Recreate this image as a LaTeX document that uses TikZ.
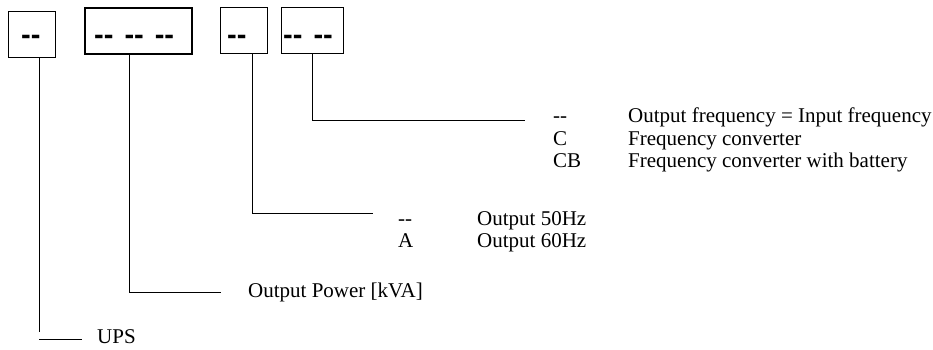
\documentclass[tikz,border=0pt]{standalone}
\usepackage{fontspec}
\setmainfont{Liberation Serif}
\newfontfamily\boxfont{Liberation Sans}
\newcommand\hy{\mbox{-}}
\begin{document}
\begin{tikzpicture}[x=1pt,y=-1pt,
  codebox/.style={draw, line width=1pt, inner sep=0pt, anchor=north west},
  thickbox/.style={codebox, line width=1.6pt},
  lead/.style={line width=1pt},
  code/.style={anchor=base west, inner sep=0pt, font=\boxfont\bfseries\fontsize{29}{29}\selectfont},
  lbl/.style={anchor=base west, inner sep=0pt, font=\fontsize{21}{22}\selectfont}]
\useasboundingbox (0,0) rectangle (933,349);

% code boxes
\node[codebox, minimum width=47pt, minimum height=46pt] (b1) at (8,11) {};
\node[thickbox, minimum width=107pt, minimum height=46pt] (b2) at (84,7) {};
\node[codebox, minimum width=47pt, minimum height=46pt] (b3) at (220,7) {};
\node[codebox, minimum width=62pt, minimum height=46pt] (b4) at (281,7) {};

\node[code] (c1) at (21,44) {\hy\hy};
\node[code] (c2) at (94,44) {\hy\hy\hspace{11pt}\hy\hy\hspace{11pt}\hy\hy};
\node[code] (c3) at (227,44) {\hy\hy};
\node[code] (c4) at (283,44) {\hy\hy\hspace{11pt}\hy\hy};

% leader end points
\coordinate (e1) at (39,332);
\coordinate (h1a) at (39,339);
\coordinate (h1b) at (82,339);
\coordinate (e2) at (129,292);
\coordinate (h2b) at (221,292);
\coordinate (e3) at (252,213);
\coordinate (h3b) at (373,213);
\coordinate (e4) at (312,120);
\coordinate (h4b) at (525,120);

\draw[lead] (b1.south -| e1) -- (e1);
\draw[lead] (h1a) -- (h1b);
\draw[lead] (b2.south -| e2) -- (e2) -- (h2b);
\draw[lead] (b3.south -| e3) -- (e3) -- (h3b);
\draw[lead] (b4.south -| e4) -- (e4) -- (h4b);

% labels
\node[lbl] (ups) at (97,343) {UPS};
\node[lbl] (pow) at (248,297) {Output Power [kVA]};

\node[lbl] (k3a) at (398,225) {\hy\hy};
\node[lbl] (d3a) at (477,225) {Output 50Hz};
\node[lbl] (k3b) at (398,247) {A};
\node[lbl] (d3b) at (477,247) {Output 60Hz};

\node[lbl] (k4a) at (553,122) {\hy\hy};
\node[lbl] (d4a) at (628,122) {Output frequency = Input frequency};
\node[lbl] (k4b) at (553,145) {C};
\node[lbl] (d4b) at (628,145) {Frequency converter};
\node[lbl] (k4c) at (553,167) {CB};
\node[lbl] (d4c) at (628,167) {Frequency converter with battery};
\end{tikzpicture}
\end{document}
